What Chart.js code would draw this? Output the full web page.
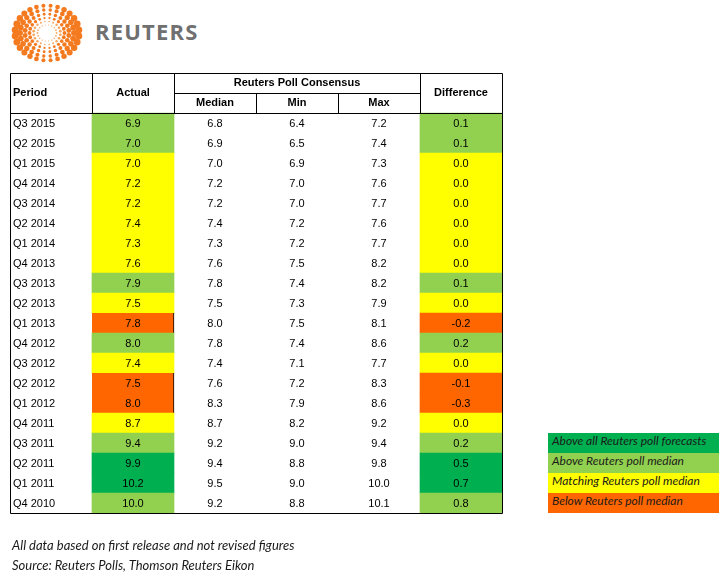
<!DOCTYPE html>
<html>
<head>
<meta charset="utf-8">
<script src="https://cdn.jsdelivr.net/npm/chart.js@4.4.1/dist/chart.umd.min.js"></script>
<style>
    body { margin: 0; background: #fff; }
    #page { position: relative; width: 728px; height: 576px; overflow: hidden; }
    #tableChart { position: absolute; left: 0; top: 0; }
    #logo { position: absolute; left: 0; top: 0; }
    #brand { position: absolute; left: 95px; top: 16px; font: 700 22px "Open Sans", sans-serif; letter-spacing: 1.2px; color: #707070; }
    #legend { position: absolute; left: 548px; top: 433px; width: 171px; }
    .legend-row { height: 20px; line-height: 21px; padding-left: 4px; font: italic 12px Lato, sans-serif; color: #1a1a1a; }
    .note { position: absolute; left: 12px; font: italic 13px Lato, sans-serif; color: #1a1a1a; }
</style>
</head>
<body>
<div id="page">
    <svg id="logo" width="92" height="68"></svg>
    <div id="brand">REUTERS</div>
    <canvas id="tableChart" width="728" height="576"></canvas>
    <div id="legend"></div>
    <div class="note" style="top:537px">All data based on first release and not revised figures</div>
    <div class="note" style="top:557px">Source: Reuters Polls, Thomson Reuters Eikon</div>
</div>
<script>
//table values, read top to bottom
const periods = ['Q3 2015', 'Q2 2015', 'Q1 2015', 'Q4 2014', 'Q3 2014', 'Q2 2014', 'Q1 2014', 'Q4 2013', 'Q3 2013', 'Q2 2013',
    'Q1 2013', 'Q4 2012', 'Q3 2012', 'Q2 2012', 'Q1 2012', 'Q4 2011', 'Q3 2011', 'Q2 2011', 'Q1 2011', 'Q4 2010'];
const actual = [6.9, 7.0, 7.0, 7.2, 7.2, 7.4, 7.3, 7.6, 7.9, 7.5, 7.8, 8.0, 7.4, 7.5, 8.0, 8.7, 9.4, 9.9, 10.2, 10.0];
const median = [6.8, 6.9, 7.0, 7.2, 7.2, 7.4, 7.3, 7.6, 7.8, 7.5, 8.0, 7.8, 7.4, 7.6, 8.3, 8.7, 9.2, 9.4, 9.5, 9.2];
const minimum = [6.4, 6.5, 6.9, 7.0, 7.0, 7.2, 7.2, 7.5, 7.4, 7.3, 7.5, 7.4, 7.1, 7.2, 7.9, 8.2, 9.0, 8.8, 9.0, 8.8];
const maximum = [7.2, 7.4, 7.3, 7.6, 7.7, 7.6, 7.7, 8.2, 8.2, 7.9, 8.1, 8.6, 7.7, 8.3, 8.6, 9.2, 9.4, 9.8, 10.0, 10.1];
const difference = [0.1, 0.1, 0.0, 0.0, 0.0, 0.0, 0.0, 0.0, 0.1, 0.0, -0.2, 0.2, 0.0, -0.1, -0.3, 0.0, 0.2, 0.5, 0.7, 0.8];

const headerRows = ['header-top', 'header-bottom'];
const columnTitles = ['Period', 'Actual', 'Median', 'Min', 'Max', 'Difference'];
const groupTitle = 'Reuters Poll Consensus';

const legendLabels = ['Above all Reuters poll forecasts', 'Above Reuters poll median', 'Matching Reuters poll median', 'Below Reuters poll median'];
const legendColors = ['#00B050', '#92D050', '#FFFF00', '#FF6600'];

const textFont = '11px "Liberation Sans", Arial, sans-serif';
const headFont = 'bold 11px "Liberation Sans", Arial, sans-serif';

//colour of a row from how the actual figure compares with the poll
getCellColor = (i) => {
    if (actual[i] > maximum[i]) return legendColors[0];
    if (actual[i] > median[i]) return legendColors[1];
    if (actual[i] === median[i]) return legendColors[2];
    return legendColors[3];
}

//one floating bar per coloured cell, header rows left empty
cellData = (column) => headerRows.map(() => null).concat(periods.map(() => [column, column + 1]));
cellColors = () => headerRows.map(() => 'transparent').concat(periods.map((p, i) => getCellColor(i)));

const tablePlugin = {
    id: 'tablePlugin',
    afterDatasetsDraw(chart) {
        const ctx = chart.ctx;
        const { left, right, top, bottom } = chart.chartArea;
        const x = chart.scales.x;
        const y = chart.scales.y;
        const rowH = y.getPixelForValue(1) - y.getPixelForValue(0);
        const rowMid = (i) => y.getPixelForValue(i);
        const colX = (c) => x.getPixelForValue(c);
        const colMid = (c) => x.getPixelForValue(c + 0.5);
        const px = (v) => Math.floor(v) + 0.5;

        line = (x1, y1, x2, y2) => {
            ctx.beginPath();
            ctx.moveTo(px(x1), px(y1));
            ctx.lineTo(px(x2), px(y2));
            ctx.stroke();
        }

        ctx.save();
        ctx.strokeStyle = '#000';
        ctx.lineWidth = 1;
        const headBottom = top + rowH * headerRows.length;
        line(left, top, right, top);
        line(left, bottom, right, bottom);
        line(left, top, left, bottom);
        line(right, top, right, bottom);
        line(left, headBottom, right, headBottom);
        line(colX(2), top + rowH, colX(5), top + rowH);
        for (const c of [1, 2, 5]) line(colX(c), top, colX(c), headBottom);
        for (const c of [3, 4]) line(colX(c), top + rowH, colX(c), headBottom);

        ctx.fillStyle = '#000';
        ctx.textBaseline = 'middle';
        ctx.font = headFont;
        const headMid = (rowMid(0) + rowMid(1)) / 2;
        ctx.textAlign = 'left';
        ctx.fillText(columnTitles[0], left + 3, headMid);
        ctx.textAlign = 'center';
        ctx.fillText(columnTitles[1], colMid(1), headMid);
        ctx.fillText(columnTitles[5], colMid(5), headMid);
        ctx.fillText(groupTitle, colMid(3), rowMid(0));
        for (const c of [2, 3, 4]) ctx.fillText(columnTitles[c], colMid(c), rowMid(1));

        ctx.font = textFont;
        periods.forEach((p, i) => {
            const yMid = rowMid(i + headerRows.length) + 1;
            ctx.textAlign = 'left';
            ctx.fillText(p, left + 3, yMid);
            ctx.textAlign = 'center';
            const values = [actual[i], median[i], minimum[i], maximum[i], difference[i]];
            values.forEach((v, c) => ctx.fillText(v.toFixed(1), colMid(c + 1), yMid));
        });
        ctx.restore();
    }
}

new Chart(document.getElementById('tableChart'), {
    type: 'bar',
    data: {
        labels: headerRows.concat(periods),
        datasets: [{
            label: 'Actual',
            data: cellData(1),
            backgroundColor: cellColors(),
            borderColor: '#000',
            borderSkipped: false,
            borderWidth: (c) => (c.dataIndex >= headerRows.length && getCellColor(c.dataIndex - headerRows.length) === legendColors[3]) ? { top: 0, right: 1, bottom: 0, left: 0 } : 0,
        }, {
            label: 'Difference',
            data: cellData(5),
            backgroundColor: cellColors(),
            borderWidth: 0,
        }]
    },
    options: {
        indexAxis: 'y',
        responsive: false,
        animation: false,
        events: [],
        grouped: false,
        barPercentage: 1,
        categoryPercentage: 1,
        layout: { padding: { left: 10, right: 226, top: 73, bottom: 63 } },
        scales: {
            x: { type: 'linear', min: 0, max: columnTitles.length, display: false },
            y: { type: 'category', display: false }
        },
        plugins: { legend: { display: false }, tooltip: { enabled: false } }
    },
    plugins: [tablePlugin]
});

//legend boxes beside the table
const legendBox = document.getElementById('legend');
legendLabels.forEach((label, i) => {
    const row = document.createElement('div');
    row.className = 'legend-row';
    row.style.background = legendColors[i];
    row.textContent = label;
    legendBox.appendChild(row);
});

//the dotted circle of the logo
const logo = document.getElementById('logo');
const ringRadius = [9.5, 13.5, 17.5, 22, 27, 32];
ringRadius.forEach((r, k) => {
    const count = 18 + k * 2;
    for (let j = 0; j < count; j++) {
        const a = (j + (k % 2) * 0.5) / count * Math.PI * 2;
        const dot = document.createElementNS('http://www.w3.org/2000/svg', 'circle');
        dot.setAttribute('cx', (47 + Math.cos(a) * r).toFixed(2));
        dot.setAttribute('cy', (33 + Math.sin(a) * r * 0.86).toFixed(2));
        dot.setAttribute('r', ((0.7 + k * 0.42) * (0.65 + 0.6 * Math.abs(Math.cos(a)))).toFixed(2));
        dot.setAttribute('fill', k < 2 ? '#f9a65e' : '#f47a20');
        logo.appendChild(dot);
    }
});
</script>
</body>
</html>
